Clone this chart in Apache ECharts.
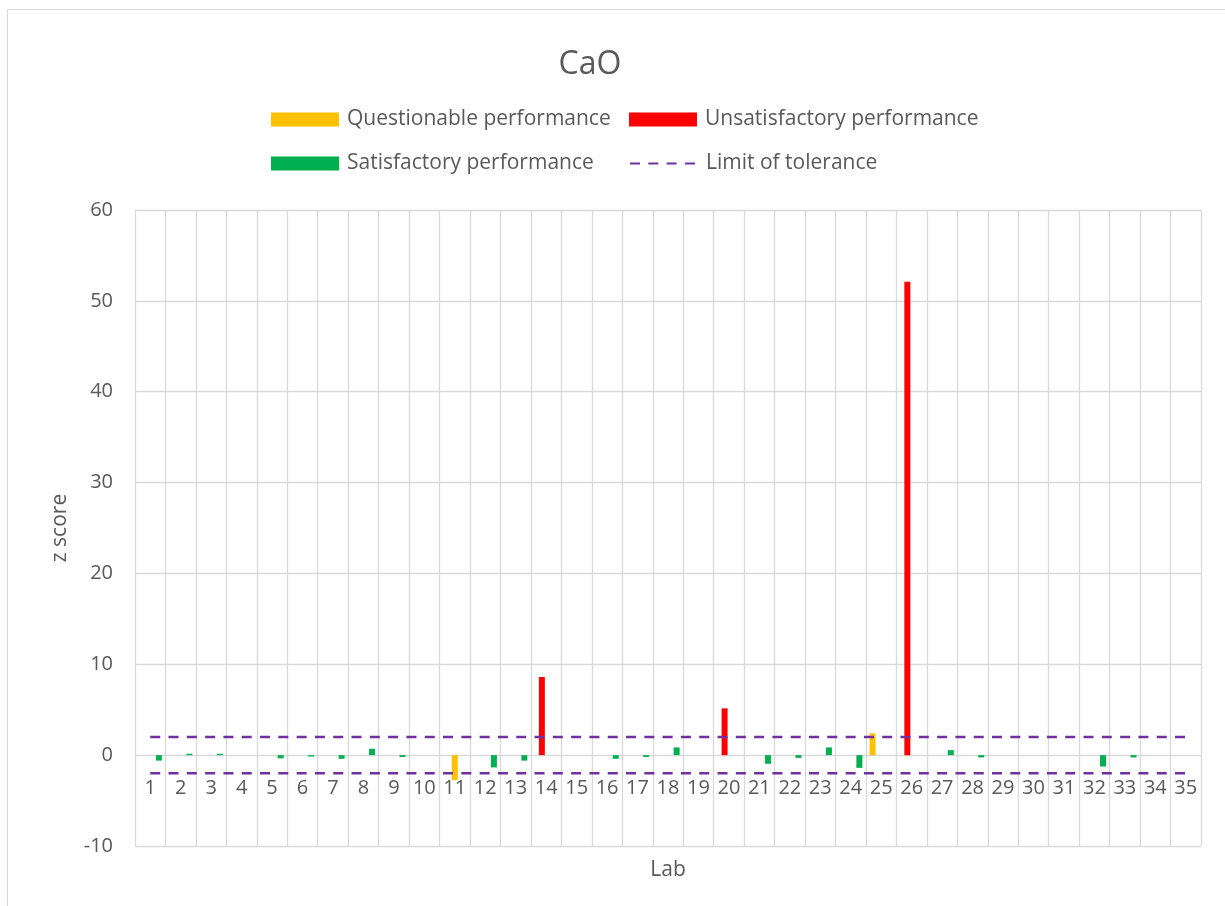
<!DOCTYPE html>
<html>
<head>
<meta charset="utf-8">
<script src="https://cdn.jsdelivr.net/npm/echarts@6/dist/echarts.min.js"></script>
<style>
    html, body { margin: 0; padding: 0; background: #fff; }
    #wrap { position: relative; width: 1225px; height: 906px; overflow: hidden; }
    #frame { position: absolute; left: 7px; top: 9px; width: 1400px; height: 1000px;
             border-left: 1px solid #d9d9d9; border-top: 1px solid #d9d9d9; }
    #chart { position: absolute; left: 0; top: 0; width: 1225px; height: 906px; }
</style>
</head>
<body>
<div id="wrap">
    <div id="frame"></div>
    <div id="chart"></div>
</div>
<script>
// lab numbers on the x axis
var labs = ['1', '2', '3', '4', '5', '6', '7', '8', '9', '10',
    '11', '12', '13', '14', '15', '16', '17', '18', '19', '20',
    '21', '22', '23', '24', '25', '26', '27', '28', '29', '30',
    '31', '32', '33', '34', '35'];

// z scores, one slot per lab (null = no bar)
var questionableHigh = [null, null, null, null, null, null, null, null, null, null,
    null, null, null, null, null, null, null, null, null, null,
    null, null, null, null, 2.4, null, null, null, null, null,
    null, null, null, null, null];
var unsatisfactory = [null, null, null, null, null, null, null, null, null, null,
    null, null, null, 8.6, null, null, null, null, null, 5.15,
    null, null, null, null, null, 52.1, null, null, null, null,
    null, null, null, null, null];
var questionableLow = [null, null, null, null, null, null, null, null, null, null,
    -2.75, null, null, null, null, null, null, null, null, null,
    null, null, null, null, null, null, null, null, null, null,
    null, null, null, null, null];
var unsatisfactoryLow = [null, null, null, null, null, null, null, null, null, null,
    null, null, null, null, null, null, null, null, null, null,
    null, null, null, null, null, null, null, null, null, null,
    null, null, null, null, null];
var satisfactory = [-0.6, 0.15, 0.15, null, -0.35, -0.15, -0.4, 0.7, -0.2, null,
    null, -1.35, -0.6, null, null, -0.4, -0.2, 0.85, null, null,
    -0.95, -0.3, 0.85, -1.4, null, null, 0.55, -0.25, null, null,
    null, -1.25, -0.25, null, null];

var upperLimit = labs.map(function () { return 2; });
var lowerLimit = labs.map(function () { return -2; });

var fontFamily = '"Open Sans", "Noto Sans", sans-serif';
var textColor = '#595959';
var gridColor = '#d9d9d9';

function barSeries(name, data, color) {
    return {
        name: name,
        type: 'bar',
        data: data,
        barWidth: 6,
        barGap: '-28%',
        itemStyle: {color: color},
        animation: false
    };
}

function limitSeries(data) {
    return {
        name: 'Limit of tolerance',
        type: 'line',
        data: data,
        symbol: 'none',
        showSymbol: false,
        lineStyle: {color: '#7030A0', width: 2.6, type: [10, 8.3]},
        itemStyle: {color: '#7030A0'},
        animation: false
    };
}

function legendAt(name, left, top, icon) {
    let lg = {
        data: [name],
        left: left,
        top: top,
        padding: 0,
        itemWidth: 68,
        itemHeight: 14,
        selectedMode: false,
        textStyle: {fontFamily: fontFamily, fontSize: 21, color: textColor, padding: [0, 0, 0, 3]}
    };
    if (icon) {
        lg.icon = icon;
    } else {
        // hide the symbol dot, keep only the dashed line
        lg.itemStyle = {color: 'transparent', borderWidth: 0};
    }
    return lg;
}

var chart = echarts.init(document.getElementById('chart'));
chart.setOption({
    animation: false,
    textStyle: {fontFamily: fontFamily},
    title: {
        text: 'CaO',
        left: 585,
        top: 44,
        textAlign: 'center',
        textStyle: {fontFamily: fontFamily, fontSize: 32, fontWeight: 'normal', color: textColor}
    },
    legend: [
        legendAt('Questionable performance', 271, 109, 'rect'),
        legendAt('Unsatisfactory performance', 629, 109, 'rect'),
        legendAt('Satisfactory performance', 271, 153, 'rect'),
        legendAt('Limit of tolerance', 629, 153)
    ],
    grid: {
        left: 135,
        right: 24,
        top: 210,
        bottom: 60,
        containLabel: false,
        outerBoundsMode: 'none'
    },
    xAxis: {
        type: 'category',
        data: labs,
        name: 'Lab',
        nameLocation: 'middle',
        nameGap: 105,
        nameTextStyle: {fontSize: 21, color: textColor},
        boundaryGap: true,
        // labels sit just under the zero line, as in the source chart
        offset: -91,
        axisLine: {show: false, onZero: false},
        axisTick: {show: false},
        axisLabel: {interval: 0, fontSize: 20, color: textColor, margin: 23},
        splitLine: {show: true, interval: 0, lineStyle: {color: gridColor, width: 1.3}}
    },
    yAxis: {
        type: 'value',
        min: -10,
        max: 60,
        interval: 10,
        name: 'z score',
        nameLocation: 'middle',
        nameGap: 64,
        nameTextStyle: {fontSize: 21, color: textColor},
        axisLine: {show: false},
        axisTick: {show: false},
        axisLabel: {fontSize: 20, color: textColor, margin: 22},
        splitLine: {lineStyle: {color: gridColor, width: 1.3}}
    },
    series: [
        barSeries('Questionable performance', questionableHigh, '#FFC000'),
        barSeries('Unsatisfactory performance', unsatisfactory, '#FF0000'),
        barSeries('Questionable performance', questionableLow, '#FFC000'),
        barSeries('Unsatisfactory performance', unsatisfactoryLow, '#FF0000'),
        barSeries('Satisfactory performance', satisfactory, '#00B050'),
        limitSeries(upperLimit),
        limitSeries(lowerLimit)
    ]
});
</script>
</body>
</html>
